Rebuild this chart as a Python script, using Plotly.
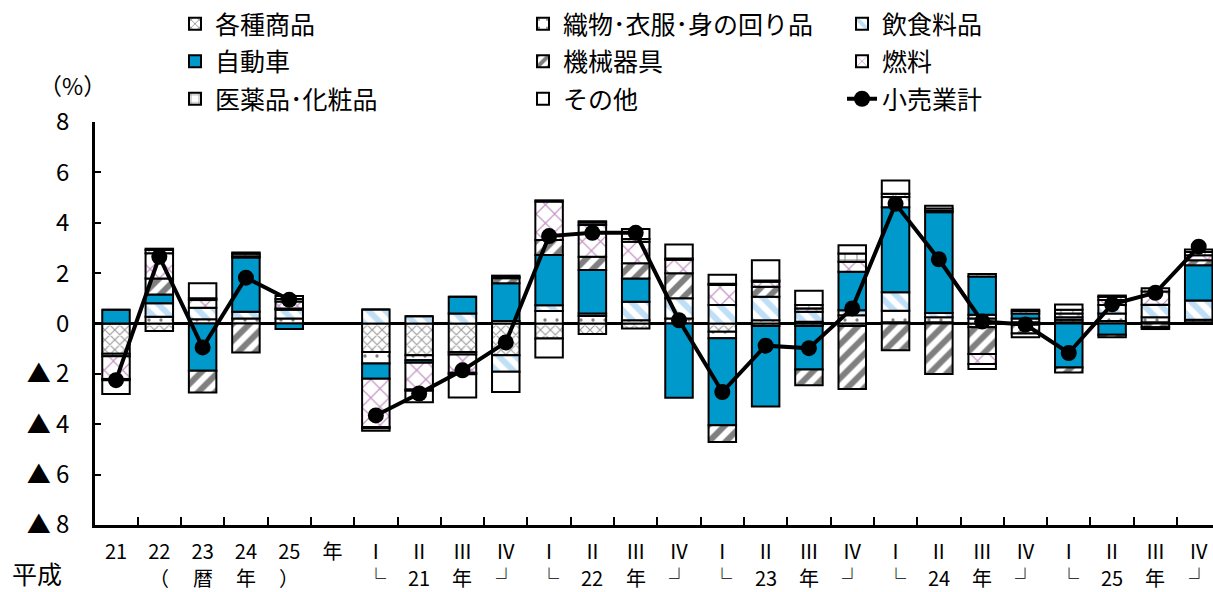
import plotly.graph_objects as go

# ---------------- data ----------------
categories = ["21", "22", "23", "24", "25", "年",
              "21Ⅰ", "21Ⅱ", "21Ⅲ", "21Ⅳ",
              "22Ⅰ", "22Ⅱ", "22Ⅲ", "22Ⅳ",
              "23Ⅰ", "23Ⅱ", "23Ⅲ", "23Ⅳ",
              "24Ⅰ", "24Ⅱ", "24Ⅲ", "24Ⅳ",
              "25Ⅰ", "25Ⅱ", "25Ⅲ", "25Ⅳ"]
tick_labels = ["21", "22", "23", "24", "25", "年",
               "Ⅰ", "Ⅱ", "Ⅲ", "Ⅳ", "Ⅰ", "Ⅱ", "Ⅲ", "Ⅳ",
               "Ⅰ", "Ⅱ", "Ⅲ", "Ⅳ", "Ⅰ", "Ⅱ", "Ⅲ", "Ⅳ",
               "Ⅰ", "Ⅱ", "Ⅲ", "Ⅳ"]
row2_labels = ["", "（", "暦", "年", "）", "",
               "└", "21", "年", "┘", "└", "22", "年", "┘",
               "└", "23", "年", "┘", "└", "24", "年", "┘",
               "└", "25", "年", "┘"]

kakushu = [-1.2, -0.3, 0, 0, 0, None,
           -1.13, -1.26, -1.13, -1.26,
           -0.6, -0.42, -0.2, 0,
           -0.33, -0.1, -0.1, -0.1,
           0.05, 0.05, -0.15, -0.05,
           0.05, 0.1, 0.05, 0.05]
orimono = [-0.1, 0.27, 0.17, 0.2, 0.2, None,
           -0.46, -0.2, -0.1, 0.1,
           0.5, 0.3, 0.13, 0.2,
           -0.26, 0.13, 0.07, 0.33,
           0.46, 0.2, 0.2, 0.05,
           0.1, 0.3, 0.2, 0.1]
inshoku = [0, 0.53, 0.46, 0.27, 0.35, None,
           0.56, 0.29, 0.4, -0.66,
           0.22, 0.1, 0.73, 0.8,
           0.73, 0.93, 0.4, 0.2,
           0.73, 0.17, 0.15, 0.15,
           0.1, 0.33, 0.49, 0.76]
jidosha = [0.55, 0.35, -1.88, 2.15, -0.22, None,
           -0.6, -0.1, 0.66, 1.5,
           2.0, 1.72, 0.93, -2.95,
           -3.45, -3.2, -1.73, 1.52,
           3.38, 4.0, 1.52, 0.2,
           -1.75, -0.45, 0, 1.4]
kikai = [0, 0.64, -0.86, -1.15, 0.05, None,
         0, 0, 0, 0.2,
         0.6, 0.53, 0.6, 1.0,
         -0.66, 0.4, -0.62, -2.5,
         -1.06, -2.0, -1.06, -0.35,
         -0.2, -0.1, -0.15, 0.2]
nenryo = [-0.9, 1.0, 0.3, 0.05, 0.27, None,
          -1.92, -1.06, -0.73, 0.05,
          1.52, 1.26, 0.86, 0.53,
          0.8, 0.2, 0.13, 0.4,
          0.4, 0.05, -0.4, 0.1,
          0.15, 0.2, 0.53, 0.2]
iyaku = [-0.05, 0.13, 0.07, 0.1, 0.1, None,
         -0.05, -0.05, -0.05, 0.05,
         0.05, 0.1, 0.1, 0.05,
         0.05, 0.05, 0.13, 0.33,
         0.13, 0.1, 0.1, 0.05,
         0.15, 0.13, 0.13, 0.13]
sonota = [-0.55, 0.05, 0.6, 0.05, 0.12, None,
          -0.1, -0.46, -0.93, -0.8,
          -0.75, 0.05, 0.4, 0.56,
          0.36, 0.8, 0.57, 0.33,
          0.53, 0.1, -0.2, -0.15,
          0.2, 0.05, -0.07, 0.1]
total = [-2.25, 2.65, -0.95, 1.82, 0.94, None,
         -3.65, -2.78, -1.86, -0.75,
         3.47, 3.6, 3.6, 0.13,
         -2.72, -0.88, -0.98, 0.6,
         4.75, 2.55, 0.08, -0.04,
         -1.17, 0.76, 1.22, 3.05]

y_tick_vals = [8, 6, 4, 2, 0, -2, -4, -6, -8]
y_tick_text = ["8", "6", "4", "2", "0", "▲ 2", "▲ 4", "▲ 6", "▲ 8"]

FONT = "Noto Sans CJK JP"

series = [
    ("各種商品", kakushu, dict(color="white", pattern=dict(shape="x", fgcolor="#333333", bgcolor="white", size=7, solidity=0.3)), "legend"),
    ("織物･衣服･身の回り品", orimono, dict(color="white", pattern=dict(shape=".", fgcolor="black", bgcolor="white", size=12, solidity=0.06)), "legend2"),
    ("飲食料品", inshoku, dict(color="white", pattern=dict(shape="\\", fgcolor="#80c0f0", bgcolor="white", size=12, solidity=0.5)), "legend3"),
    ("自動車", jidosha, dict(color="#0099CC"), "legend"),
    ("機械器具", kikai, dict(color="white", pattern=dict(shape="/", fgcolor="black", bgcolor="white", size=12, solidity=0.5)), "legend2"),
    ("燃料", nenryo, dict(color="white", pattern=dict(shape="x", fgcolor="#8b2f8b", bgcolor="white", size=13, solidity=0.18)), "legend3"),
    ("医薬品･化粧品", iyaku, dict(color="white", pattern=dict(shape="+", fgcolor="black", bgcolor="white", size=12, solidity=0.15)), "legend"),
    ("その他", sonota, dict(color="white"), "legend2"),
]

fig = go.Figure()
for i, (name, vals, mk, lg) in enumerate(series):
    mk = dict(mk)
    mk["line"] = dict(color="black", width=2)
    fig.add_trace(go.Bar(x=categories, y=vals, name=name, marker=mk,
                         legend=lg, legendgroup=name))

fig.add_trace(go.Scatter(x=categories, y=total, name="小売業計", mode="lines+markers",
                         line=dict(color="black", width=4),
                         marker=dict(color="black", size=16),
                         connectgaps=False, legend="legend3", legendgroup="小売業計"))

leg_common = dict(font=dict(family=FONT, size=25, color="black"),
                  bgcolor="rgba(0,0,0,0)", yanchor="top", xanchor="left",
                  traceorder="grouped", tracegroupgap=2, itemwidth=30)

W, H = 1213, 592
ML, MR, MT, MB = 95, 0, 122, 67
PW, PH = W - ML - MR, H - MT - MB

def px_x(x):
    return (x - ML) / PW

def px_y(y):
    return (H - MB - y) / PH

annotations = []
for i, t in enumerate(row2_labels):
    if t:
        annotations.append(dict(x=i, y=px_y(577), xref="x", yref="paper", text=t,
                                showarrow=False,
                                font=dict(family=FONT, size=20, color="black"),
                                xanchor="center", yanchor="middle"))
annotations.append(dict(x=px_x(37), y=px_y(573), xref="paper", yref="paper", text="平成",
                        showarrow=False, font=dict(family=FONT, size=25, color="black"),
                        xanchor="center", yanchor="middle"))
annotations.append(dict(x=px_x(72), y=px_y(85), xref="paper", yref="paper", text="（%）",
                        showarrow=False, font=dict(family=FONT, size=23, color="black"),
                        xanchor="center", yanchor="middle"))

fig.update_layout(
    width=W, height=H,
    margin=dict(l=ML, r=MR, t=MT, b=MB),
    paper_bgcolor="white", plot_bgcolor="white",
    barmode="relative", bargap=0.365,
    font=dict(family=FONT, size=20, color="black"),
    legend=dict(x=px_x(175), y=px_y(1), **leg_common),
    legend2=dict(x=px_x(523), y=px_y(1), **leg_common),
    legend3=dict(x=px_x(842), y=px_y(1), **leg_common),
    annotations=annotations,
    xaxis=dict(type="category", categoryorder="array", categoryarray=categories,
               range=[-0.485, 25.33], tickvals=categories, ticktext=tick_labels,
               tickson="boundaries", ticks="inside", ticklen=8, tickwidth=2, tickcolor="black",
               showline=True, linecolor="black", linewidth=3, showgrid=False,
               tickfont=dict(family=FONT, size=20, color="black"), ticklabelstandoff=7),
    yaxis=dict(range=[-8, 8], tickvals=y_tick_vals, ticktext=y_tick_text,
               ticks="inside", ticklen=6, tickwidth=2, tickcolor="black",
               showline=True, linecolor="black", linewidth=2.5, showgrid=False,
               zeroline=True, zerolinecolor="black", zerolinewidth=2.5,
               tickfont=dict(family=FONT, size=24, color="black"), ticklabelstandoff=18),
)

fig.write_html("out.html")
